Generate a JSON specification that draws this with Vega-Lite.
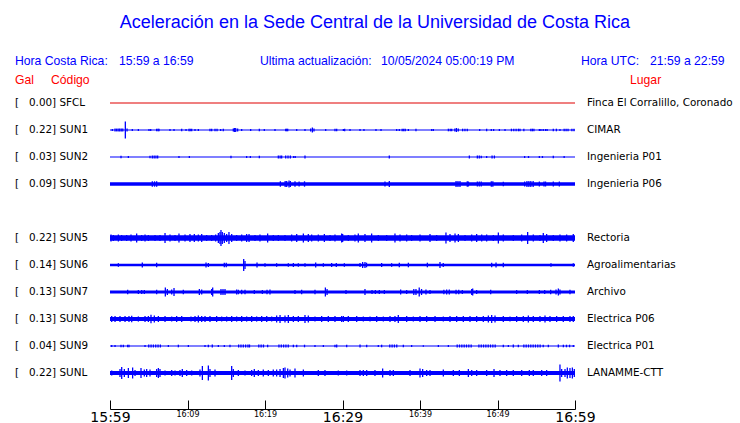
{
"$schema":"https://vega.github.io/schema/vega-lite/v6.json",
"width":465,"height":297,
"autosize":"none",
"padding":{"left":110,"top":89.5,"right":165,"bottom":36.5},
"config":{"view":{"stroke":null}},
"datasets":{
"stations":[
{"c":"SFCL","slot":0,"gal":0.00,"place":"Finca El Corralillo, Coronado","base":0.5},
{"c":"SUN1","slot":1,"gal":0.22,"place":"CIMAR","base":0.6},
{"c":"SUN2","slot":2,"gal":0.03,"place":"Ingenieria P01","base":0.6},
{"c":"SUN3","slot":3,"gal":0.09,"place":"Ingenieria P06","base":1.7},
{"c":"SUN5","slot":5,"gal":0.22,"place":"Rectoria","base":2.8},
{"c":"SUN6","slot":6,"gal":0.14,"place":"Agroalimentarias","base":1.3},
{"c":"SUN7","slot":7,"gal":0.13,"place":"Archivo","base":1.4},
{"c":"SUN8","slot":8,"gal":0.13,"place":"Electrica P06","base":2.0},
{"c":"SUN9","slot":9,"gal":0.04,"place":"Electrica P01","base":0.5},
{"c":"SUNL","slot":10,"gal":0.22,"place":"LANAMME-CTT","base":1.9}
],
"bursts":[
{"c":"SUN1","t":0.3,"a":1},{"c":"SUN1","t":0.65,"a":1.4},{"c":"SUN1","t":0.85,"a":1.4},{"c":"SUN1","t":1.05,"a":1.4},{"c":"SUN1","t":1.25,"a":1.4},{"c":"SUN1","t":1.45,"a":1.4},{"c":"SUN1","t":1.65,"a":1.4},{"c":"SUN1","t":1.98,"a":8.5},{"c":"SUN1","t":2.2,"a":1.4},{"c":"SUN1","t":2.88,"a":1},{"c":"SUN1","t":3.66,"a":1},{"c":"SUN1","t":5.03,"a":1},{"c":"SUN1","t":5.25,"a":1},{"c":"SUN1","t":6.02,"a":1.3},{"c":"SUN1","t":6.2,"a":1.3},{"c":"SUN1","t":6.32,"a":1.3},{"c":"SUN1","t":7.74,"a":1},{"c":"SUN1","t":8.26,"a":1},{"c":"SUN1","t":9.25,"a":1.3},{"c":"SUN1","t":9.81,"a":1},{"c":"SUN1","t":10.19,"a":1.3},{"c":"SUN1","t":10.35,"a":1.3},{"c":"SUN1","t":10.54,"a":1.3},{"c":"SUN1","t":10.97,"a":1},{"c":"SUN1","t":11.4,"a":1},{"c":"SUN1","t":12.9,"a":1.3},{"c":"SUN1","t":13.12,"a":1.3},{"c":"SUN1","t":13.55,"a":1.3},{"c":"SUN1","t":13.81,"a":1.3},{"c":"SUN1","t":14.28,"a":1},{"c":"SUN1","t":14.62,"a":1.3},{"c":"SUN1","t":15.91,"a":1.5},{"c":"SUN1","t":16.05,"a":2},{"c":"SUN1","t":16.22,"a":2},{"c":"SUN1","t":16.47,"a":1.5},{"c":"SUN1","t":16.99,"a":1},{"c":"SUN1","t":18.15,"a":1},{"c":"SUN1","t":19.27,"a":1.3},{"c":"SUN1","t":19.91,"a":1},{"c":"SUN1","t":21.29,"a":1},{"c":"SUN1","t":22.67,"a":1.3},{"c":"SUN1","t":22.8,"a":1.3},{"c":"SUN1","t":22.93,"a":1.3},{"c":"SUN1","t":24.09,"a":1},{"c":"SUN1","t":25.16,"a":1},{"c":"SUN1","t":25.89,"a":1.5},{"c":"SUN1","t":26.11,"a":2.5},{"c":"SUN1","t":26.32,"a":1.5},{"c":"SUN1","t":27.83,"a":1},{"c":"SUN1","t":29.03,"a":1.3},{"c":"SUN1","t":29.25,"a":1.3},{"c":"SUN1","t":30.11,"a":1},
{"c":"SUN1","t":30.28,"a":1.3},{"c":"SUN1","t":30.97,"a":1},{"c":"SUN1","t":32.26,"a":1},{"c":"SUN1","t":32.77,"a":1},{"c":"SUN1","t":34.32,"a":1},{"c":"SUN1","t":34.97,"a":1},{"c":"SUN1","t":36.99,"a":1},{"c":"SUN1","t":37.33,"a":1},{"c":"SUN1","t":37.7,"a":1.3},{"c":"SUN1","t":37.9,"a":1.3},{"c":"SUN1","t":38.1,"a":1.3},{"c":"SUN1","t":38.5,"a":1},{"c":"SUN1","t":39.48,"a":1.3},{"c":"SUN1","t":41.51,"a":1},{"c":"SUN1","t":41.72,"a":1},{"c":"SUN1","t":43.66,"a":1.3},{"c":"SUN1","t":43.9,"a":1.3},{"c":"SUN1","t":44.09,"a":1.3},{"c":"SUN1","t":44.5,"a":1.5},{"c":"SUN1","t":44.7,"a":2},{"c":"SUN1","t":44.94,"a":1.5},{"c":"SUN1","t":45.5,"a":1.3},{"c":"SUN1","t":45.8,"a":1.3},{"c":"SUN1","t":46.1,"a":1.3},{"c":"SUN1","t":47.7,"a":1},{"c":"SUN1","t":48.6,"a":1.3},{"c":"SUN1","t":49.2,"a":1},{"c":"SUN1","t":49.5,"a":1},{"c":"SUN1","t":50.24,"a":1},{"c":"SUN1","t":50.97,"a":1},{"c":"SUN1","t":51.8,"a":1.3},{"c":"SUN1","t":52.1,"a":1.3},{"c":"SUN1","t":52.4,"a":1.3},{"c":"SUN1","t":52.7,"a":1.3},{"c":"SUN1","t":52.9,"a":1.3},{"c":"SUN1","t":53.4,"a":1.3},{"c":"SUN1","t":54.3,"a":1.3},{"c":"SUN1","t":54.5,"a":1.3},{"c":"SUN1","t":54.7,"a":1.3},{"c":"SUN1","t":55.4,"a":1},{"c":"SUN1","t":55.6,"a":1},{"c":"SUN1","t":55.9,"a":1},{"c":"SUN1","t":56.2,"a":1},{"c":"SUN1","t":56.4,"a":1},{"c":"SUN1","t":57.2,"a":1.3},{"c":"SUN1","t":57.6,"a":1.3},{"c":"SUN1","t":58.06,"a":1},{"c":"SUN1","t":58.6,"a":1.3},{"c":"SUN1","t":58.85,"a":1.3},{"c":"SUN1","t":59.1,"a":1.3},{"c":"SUN1","t":59.6,"a":1.3},{"c":"SUN1","t":59.87,"a":1.3},
{"c":"SUN2","t":1.42,"a":1.3},{"c":"SUN2","t":2.37,"a":1},{"c":"SUN2","t":5.16,"a":1.3},{"c":"SUN2","t":5.46,"a":1.5},{"c":"SUN2","t":5.7,"a":1.5},{"c":"SUN2","t":5.93,"a":1.5},{"c":"SUN2","t":6.15,"a":1.5},{"c":"SUN2","t":8.9,"a":1},{"c":"SUN2","t":10.24,"a":1},{"c":"SUN2","t":15.61,"a":1.3},{"c":"SUN2","t":17.63,"a":1},{"c":"SUN2","t":18.11,"a":1},{"c":"SUN2","t":19.27,"a":1.3},{"c":"SUN2","t":21.72,"a":1.5},{"c":"SUN2","t":21.95,"a":1.5},{"c":"SUN2","t":22.15,"a":1.5},{"c":"SUN2","t":22.67,"a":1.5},{"c":"SUN2","t":22.97,"a":1.5},{"c":"SUN2","t":23.27,"a":1.5},{"c":"SUN2","t":23.7,"a":1},{"c":"SUN2","t":23.9,"a":1},{"c":"SUN2","t":25.16,"a":1.5},
{"c":"SUN2","t":36.04,"a":1.5},{"c":"SUN2","t":46.37,"a":1.5},{"c":"SUN2","t":47.4,"a":1.5},{"c":"SUN2","t":47.65,"a":1.5},{"c":"SUN2","t":47.9,"a":1.3},{"c":"SUN2","t":48.6,"a":1},{"c":"SUN2","t":49.3,"a":1.5},{"c":"SUN2","t":49.6,"a":1.5},{"c":"SUN2","t":53.5,"a":1},{"c":"SUN2","t":54.0,"a":1},{"c":"SUN2","t":55.4,"a":1},{"c":"SUN2","t":55.8,"a":1},{"c":"SUN2","t":57.2,"a":1.3},{"c":"SUN2","t":58.6,"a":1},
{"c":"SUN3","t":5.46,"a":2.7},{"c":"SUN3","t":5.75,"a":2.7},{"c":"SUN3","t":6.02,"a":2.7},{"c":"SUN3","t":21.98,"a":2.7},{"c":"SUN3","t":22.6,"a":3},{"c":"SUN3","t":22.8,"a":3},{"c":"SUN3","t":23.1,"a":3.5},{"c":"SUN3","t":23.27,"a":3},{"c":"SUN3","t":23.87,"a":2.7},{"c":"SUN3","t":24.4,"a":2.5},{"c":"SUN3","t":25.1,"a":2.7},
{"c":"SUN3","t":35.48,"a":2.5},{"c":"SUN3","t":36.04,"a":3},{"c":"SUN3","t":44.65,"a":3},{"c":"SUN3","t":44.9,"a":3},{"c":"SUN3","t":45.16,"a":3},{"c":"SUN3","t":46.1,"a":2.7},{"c":"SUN3","t":46.25,"a":2.5},{"c":"SUN3","t":47.4,"a":2.5},{"c":"SUN3","t":47.65,"a":2.5},{"c":"SUN3","t":47.9,"a":2.5},{"c":"SUN3","t":49.2,"a":2.7},{"c":"SUN3","t":49.4,"a":2.7},{"c":"SUN3","t":50.75,"a":2.3},{"c":"SUN3","t":53.5,"a":2.5},{"c":"SUN3","t":53.8,"a":3},{"c":"SUN3","t":54.05,"a":3},{"c":"SUN3","t":54.3,"a":3},{"c":"SUN3","t":54.6,"a":3},{"c":"SUN3","t":55.4,"a":2.5},{"c":"SUN3","t":56.0,"a":2.5},{"c":"SUN3","t":56.2,"a":2.5},{"c":"SUN3","t":57.2,"a":2.5},{"c":"SUN3","t":57.98,"a":2.5},
{"c":"SUN5","t":0.13,"a":3.5},{"c":"SUN5","t":0.43,"a":3},{"c":"SUN5","t":1.08,"a":3.5},{"c":"SUN5","t":1.5,"a":3},{"c":"SUN5","t":2.15,"a":3},{"c":"SUN5","t":2.71,"a":3.5},{"c":"SUN5","t":3.44,"a":4.5},{"c":"SUN5","t":4.09,"a":3},{"c":"SUN5","t":4.52,"a":3.5},{"c":"SUN5","t":4.95,"a":3},{"c":"SUN5","t":5.81,"a":3},{"c":"SUN5","t":6.45,"a":3},{"c":"SUN5","t":7.1,"a":5},{"c":"SUN5","t":7.74,"a":3.5},{"c":"SUN5","t":8.39,"a":3},{"c":"SUN5","t":8.9,"a":4.5},{"c":"SUN5","t":9.68,"a":3.5},{"c":"SUN5","t":10.32,"a":4},{"c":"SUN5","t":10.88,"a":4},{"c":"SUN5","t":11.4,"a":3.5},{"c":"SUN5","t":11.83,"a":4},{"c":"SUN5","t":12.47,"a":3},{"c":"SUN5","t":13.12,"a":3},{"c":"SUN5","t":13.63,"a":3.5},{"c":"SUN5","t":13.98,"a":5},{"c":"SUN5","t":14.19,"a":6},{"c":"SUN5","t":14.32,"a":8},{"c":"SUN5","t":14.49,"a":6},{"c":"SUN5","t":14.75,"a":5},{"c":"SUN5","t":15.05,"a":4},{"c":"SUN5","t":15.35,"a":6},{"c":"SUN5","t":15.7,"a":4},{"c":"SUN5","t":16.34,"a":3},{"c":"SUN5","t":16.99,"a":3.5},{"c":"SUN5","t":17.63,"a":4},{"c":"SUN5","t":17.94,"a":4},{"c":"SUN5","t":18.71,"a":3},{"c":"SUN5","t":19.35,"a":3.5},{"c":"SUN5","t":20.34,"a":4.5},{"c":"SUN5","t":21.07,"a":3},{"c":"SUN5","t":21.72,"a":3},{"c":"SUN5","t":22.58,"a":3},{"c":"SUN5","t":23.44,"a":3.5},{"c":"SUN5","t":24.09,"a":4},{"c":"SUN5","t":24.95,"a":4.5},{"c":"SUN5","t":25.59,"a":4},{"c":"SUN5","t":26.02,"a":3.5},{"c":"SUN5","t":26.88,"a":3.5},{"c":"SUN5","t":27.66,"a":4},{"c":"SUN5","t":28.39,"a":3},{"c":"SUN5","t":29.03,"a":3.5},{"c":"SUN5","t":29.89,"a":4.5},
{"c":"SUN5","t":30.02,"a":4},{"c":"SUN5","t":30.75,"a":3},{"c":"SUN5","t":31.61,"a":3.5},{"c":"SUN5","t":32.04,"a":4.5},{"c":"SUN5","t":32.9,"a":4},{"c":"SUN5","t":33.76,"a":4.5},{"c":"SUN5","t":34.62,"a":3},{"c":"SUN5","t":35.7,"a":3},{"c":"SUN5","t":36.77,"a":4.5},{"c":"SUN5","t":37.42,"a":3.5},{"c":"SUN5","t":38.28,"a":3.5},{"c":"SUN5","t":38.92,"a":3},{"c":"SUN5","t":40.0,"a":3.5},{"c":"SUN5","t":41.29,"a":4},{"c":"SUN5","t":42.15,"a":3},{"c":"SUN5","t":43.35,"a":5.5},{"c":"SUN5","t":43.87,"a":4},{"c":"SUN5","t":44.52,"a":4.5},{"c":"SUN5","t":44.95,"a":4},{"c":"SUN5","t":45.81,"a":3},{"c":"SUN5","t":46.67,"a":3.5},{"c":"SUN5","t":47.31,"a":4},{"c":"SUN5","t":47.96,"a":3.5},{"c":"SUN5","t":48.6,"a":3.5},{"c":"SUN5","t":49.46,"a":3},{"c":"SUN5","t":50.11,"a":5.5},{"c":"SUN5","t":50.75,"a":3.5},{"c":"SUN5","t":52.04,"a":3},{"c":"SUN5","t":53.12,"a":3.5},{"c":"SUN5","t":53.89,"a":6},{"c":"SUN5","t":54.62,"a":3.5},{"c":"SUN5","t":55.48,"a":3},{"c":"SUN5","t":55.91,"a":5},{"c":"SUN5","t":56.34,"a":4},{"c":"SUN5","t":57.2,"a":3},{"c":"SUN5","t":58.06,"a":3.5},{"c":"SUN5","t":58.92,"a":3.5},{"c":"SUN5","t":59.78,"a":4},
{"c":"SUN6","t":1.08,"a":1.8},{"c":"SUN6","t":4.17,"a":2.5},{"c":"SUN6","t":6.02,"a":2.3},{"c":"SUN6","t":12.39,"a":2.5},{"c":"SUN6","t":12.69,"a":2},{"c":"SUN6","t":14.75,"a":2.3},{"c":"SUN6","t":15.0,"a":2.3},{"c":"SUN6","t":17.25,"a":6},{"c":"SUN6","t":17.42,"a":4},{"c":"SUN6","t":18.97,"a":2.5},{"c":"SUN6","t":20.0,"a":1.8},{"c":"SUN6","t":21.5,"a":1.8},{"c":"SUN6","t":23.01,"a":1.8},{"c":"SUN6","t":23.66,"a":2},{"c":"SUN6","t":24.3,"a":1.8},{"c":"SUN6","t":25.16,"a":1.8},{"c":"SUN6","t":26.54,"a":2.5},{"c":"SUN6","t":27.53,"a":1.8},{"c":"SUN6","t":28.6,"a":2},{"c":"SUN6","t":29.2,"a":2},{"c":"SUN6","t":30.24,"a":1.8},
{"c":"SUN6","t":32.26,"a":2},{"c":"SUN6","t":32.6,"a":3},{"c":"SUN6","t":32.9,"a":3},{"c":"SUN6","t":33.1,"a":2.3},{"c":"SUN6","t":35.05,"a":2},{"c":"SUN6","t":36.34,"a":1.8},{"c":"SUN6","t":37.33,"a":2.3},{"c":"SUN6","t":38.5,"a":2.3},{"c":"SUN6","t":40.95,"a":2.3},{"c":"SUN6","t":42.58,"a":3},{"c":"SUN6","t":43.0,"a":2},{"c":"SUN6","t":49.25,"a":2.3},{"c":"SUN6","t":49.81,"a":2.5},{"c":"SUN6","t":50.75,"a":2.3},{"c":"SUN6","t":56.9,"a":1.8},{"c":"SUN6","t":59.78,"a":1.8},
{"c":"SUN7","t":2.28,"a":2.3},{"c":"SUN7","t":3.66,"a":2},{"c":"SUN7","t":4.09,"a":2},{"c":"SUN7","t":4.43,"a":2},{"c":"SUN7","t":6.02,"a":2.3},{"c":"SUN7","t":7.14,"a":4.5},{"c":"SUN7","t":7.4,"a":3},{"c":"SUN7","t":7.96,"a":2.5},{"c":"SUN7","t":8.26,"a":4},{"c":"SUN7","t":9.46,"a":2.3},{"c":"SUN7","t":11.53,"a":3},{"c":"SUN7","t":11.83,"a":2.5},{"c":"SUN7","t":13.12,"a":3},{"c":"SUN7","t":13.25,"a":4.5},{"c":"SUN7","t":14.32,"a":3},{"c":"SUN7","t":14.58,"a":3},{"c":"SUN7","t":14.84,"a":3},{"c":"SUN7","t":16.34,"a":2.5},{"c":"SUN7","t":16.56,"a":2.3},{"c":"SUN7","t":16.99,"a":2.3},{"c":"SUN7","t":17.42,"a":2.3},{"c":"SUN7","t":18.62,"a":2},{"c":"SUN7","t":19.66,"a":2},{"c":"SUN7","t":20.26,"a":2.3},{"c":"SUN7","t":20.64,"a":2.5},{"c":"SUN7","t":23.87,"a":2},{"c":"SUN7","t":24.73,"a":2.3},{"c":"SUN7","t":26.45,"a":2.3},{"c":"SUN7","t":27.79,"a":4.5},{"c":"SUN7","t":28.01,"a":3},
{"c":"SUN7","t":30.45,"a":2},{"c":"SUN7","t":32.9,"a":3},{"c":"SUN7","t":33.81,"a":2},{"c":"SUN7","t":34.24,"a":2},{"c":"SUN7","t":34.75,"a":2},{"c":"SUN7","t":35.4,"a":2},{"c":"SUN7","t":37.5,"a":2.5},{"c":"SUN7","t":38.28,"a":2},{"c":"SUN7","t":39.2,"a":3},{"c":"SUN7","t":39.48,"a":3},{"c":"SUN7","t":39.9,"a":4.5},{"c":"SUN7","t":40.2,"a":3},{"c":"SUN7","t":40.77,"a":2.5},{"c":"SUN7","t":41.29,"a":2},{"c":"SUN7","t":43.08,"a":2.3},{"c":"SUN7","t":43.44,"a":2.5},{"c":"SUN7","t":43.78,"a":2.5},{"c":"SUN7","t":44.65,"a":2.3},{"c":"SUN7","t":45.0,"a":2.3},{"c":"SUN7","t":45.46,"a":2},{"c":"SUN7","t":46.67,"a":3},{"c":"SUN7","t":46.8,"a":3.5},{"c":"SUN7","t":47.31,"a":2},{"c":"SUN7","t":49.12,"a":2.3},{"c":"SUN7","t":52.47,"a":2},{"c":"SUN7","t":53.85,"a":2},{"c":"SUN7","t":55.4,"a":2},{"c":"SUN7","t":56.09,"a":2},{"c":"SUN7","t":56.86,"a":2.3},{"c":"SUN7","t":57.55,"a":2.5},{"c":"SUN7","t":57.85,"a":3.5},{"c":"SUN7","t":58.06,"a":2.5},{"c":"SUN7","t":59.35,"a":2.3},
{"c":"SUN8","t":0.22,"a":3},{"c":"SUN8","t":0.65,"a":3},{"c":"SUN8","t":1.29,"a":3},{"c":"SUN8","t":1.94,"a":3},{"c":"SUN8","t":2.45,"a":3},{"c":"SUN8","t":2.8,"a":3.2},{"c":"SUN8","t":3.66,"a":2.6},{"c":"SUN8","t":4.52,"a":3},{"c":"SUN8","t":4.95,"a":3},{"c":"SUN8","t":5.29,"a":4.2},{"c":"SUN8","t":5.72,"a":3.5},{"c":"SUN8","t":6.24,"a":3},{"c":"SUN8","t":7.1,"a":3},{"c":"SUN8","t":7.96,"a":2.6},{"c":"SUN8","t":8.6,"a":3},{"c":"SUN8","t":9.25,"a":3},{"c":"SUN8","t":10.45,"a":2.6},{"c":"SUN8","t":10.97,"a":3},{"c":"SUN8","t":11.4,"a":3.5},{"c":"SUN8","t":11.83,"a":3},{"c":"SUN8","t":12.26,"a":3},{"c":"SUN8","t":12.9,"a":3},{"c":"SUN8","t":13.76,"a":3},{"c":"SUN8","t":14.41,"a":2.6},{"c":"SUN8","t":15.05,"a":2.6},{"c":"SUN8","t":15.7,"a":3},{"c":"SUN8","t":16.34,"a":2.6},{"c":"SUN8","t":16.99,"a":3},{"c":"SUN8","t":17.63,"a":2.6},{"c":"SUN8","t":18.28,"a":3},{"c":"SUN8","t":18.92,"a":2.6},{"c":"SUN8","t":19.57,"a":3},{"c":"SUN8","t":20.22,"a":3},{"c":"SUN8","t":20.86,"a":2.6},{"c":"SUN8","t":21.5,"a":3.5},{"c":"SUN8","t":21.94,"a":4},{"c":"SUN8","t":22.58,"a":3.5},{"c":"SUN8","t":23.01,"a":4},{"c":"SUN8","t":23.66,"a":3},{"c":"SUN8","t":24.3,"a":3},{"c":"SUN8","t":25.16,"a":4},{"c":"SUN8","t":25.59,"a":3.5},{"c":"SUN8","t":26.45,"a":2.6},{"c":"SUN8","t":27.31,"a":3},{"c":"SUN8","t":28.17,"a":3},{"c":"SUN8","t":29.03,"a":3},{"c":"SUN8","t":29.89,"a":3},
{"c":"SUN8","t":30.11,"a":3},{"c":"SUN8","t":30.75,"a":3},{"c":"SUN8","t":31.83,"a":3},{"c":"SUN8","t":32.69,"a":2.6},{"c":"SUN8","t":33.55,"a":2.6},{"c":"SUN8","t":34.41,"a":3},{"c":"SUN8","t":35.27,"a":2.6},{"c":"SUN8","t":36.13,"a":3},{"c":"SUN8","t":36.77,"a":3},{"c":"SUN8","t":37.2,"a":4},{"c":"SUN8","t":38.28,"a":3},{"c":"SUN8","t":39.14,"a":2.6},{"c":"SUN8","t":40.0,"a":3},{"c":"SUN8","t":40.86,"a":3},{"c":"SUN8","t":41.94,"a":3},{"c":"SUN8","t":43.01,"a":2.6},{"c":"SUN8","t":43.87,"a":3},{"c":"SUN8","t":44.73,"a":3},{"c":"SUN8","t":45.59,"a":3},{"c":"SUN8","t":46.45,"a":3},{"c":"SUN8","t":47.31,"a":3},{"c":"SUN8","t":48.17,"a":3},{"c":"SUN8","t":48.82,"a":3.5},{"c":"SUN8","t":49.25,"a":4},{"c":"SUN8","t":49.68,"a":3.5},{"c":"SUN8","t":50.75,"a":3},{"c":"SUN8","t":51.61,"a":2.6},{"c":"SUN8","t":52.47,"a":3},{"c":"SUN8","t":53.33,"a":3},{"c":"SUN8","t":53.98,"a":3.5},{"c":"SUN8","t":54.62,"a":3},{"c":"SUN8","t":55.48,"a":3},{"c":"SUN8","t":56.13,"a":3.5},{"c":"SUN8","t":56.77,"a":3},{"c":"SUN8","t":57.63,"a":3},{"c":"SUN8","t":58.49,"a":3},{"c":"SUN8","t":59.35,"a":3},{"c":"SUN8","t":59.78,"a":3},
{"c":"SUN9","t":0.22,"a":1},{"c":"SUN9","t":0.65,"a":1},{"c":"SUN9","t":1.42,"a":1.3},{"c":"SUN9","t":1.72,"a":1.3},{"c":"SUN9","t":2.28,"a":1.3},{"c":"SUN9","t":2.45,"a":1.3},{"c":"SUN9","t":4.52,"a":1},{"c":"SUN9","t":5.0,"a":1.5},{"c":"SUN9","t":5.3,"a":1.5},{"c":"SUN9","t":5.6,"a":1.5},{"c":"SUN9","t":5.9,"a":1.5},{"c":"SUN9","t":6.2,"a":1.5},{"c":"SUN9","t":6.5,"a":1.5},{"c":"SUN9","t":7.53,"a":1},{"c":"SUN9","t":8.82,"a":1.3},{"c":"SUN9","t":10.11,"a":1},{"c":"SUN9","t":12.26,"a":1},{"c":"SUN9","t":12.69,"a":1.3},{"c":"SUN9","t":13.2,"a":1.5},{"c":"SUN9","t":13.98,"a":1},{"c":"SUN9","t":14.75,"a":1},{"c":"SUN9","t":15.48,"a":1.3},{"c":"SUN9","t":16.6,"a":1.5},{"c":"SUN9","t":16.9,"a":1.5},{"c":"SUN9","t":17.2,"a":1.5},{"c":"SUN9","t":17.5,"a":1.5},{"c":"SUN9","t":17.8,"a":1.5},{"c":"SUN9","t":18.0,"a":1.5},{"c":"SUN9","t":19.2,"a":1.5},{"c":"SUN9","t":19.5,"a":1.5},{"c":"SUN9","t":19.8,"a":1.5},{"c":"SUN9","t":20.34,"a":1.3},{"c":"SUN9","t":21.8,"a":1.5},{"c":"SUN9","t":22.1,"a":1.5},{"c":"SUN9","t":22.4,"a":1.5},{"c":"SUN9","t":22.7,"a":1.5},{"c":"SUN9","t":23.0,"a":1.5},{"c":"SUN9","t":23.66,"a":1.3},{"c":"SUN9","t":24.09,"a":1.3},{"c":"SUN9","t":25.1,"a":1.3},{"c":"SUN9","t":26.45,"a":1},{"c":"SUN9","t":27.53,"a":1},{"c":"SUN9","t":29.03,"a":1.3},{"c":"SUN9","t":29.25,"a":1.5},
{"c":"SUN9","t":30.54,"a":1.3},{"c":"SUN9","t":32.26,"a":1.5},{"c":"SUN9","t":33.12,"a":1.3},{"c":"SUN9","t":34.62,"a":1},{"c":"SUN9","t":35.05,"a":1.3},{"c":"SUN9","t":36.1,"a":1.5},{"c":"SUN9","t":36.4,"a":1.5},{"c":"SUN9","t":36.7,"a":1.5},{"c":"SUN9","t":37.0,"a":1.5},{"c":"SUN9","t":37.85,"a":1.3},{"c":"SUN9","t":38.92,"a":1},{"c":"SUN9","t":40.43,"a":0.8},{"c":"SUN9","t":42.37,"a":1},{"c":"SUN9","t":43.66,"a":1},{"c":"SUN9","t":44.8,"a":1.5},{"c":"SUN9","t":45.1,"a":1.5},{"c":"SUN9","t":45.4,"a":1.5},{"c":"SUN9","t":45.7,"a":1.5},{"c":"SUN9","t":46.0,"a":1.5},{"c":"SUN9","t":46.3,"a":1.5},{"c":"SUN9","t":46.6,"a":1.5},{"c":"SUN9","t":47.6,"a":1.5},{"c":"SUN9","t":47.9,"a":1.5},{"c":"SUN9","t":48.2,"a":1.5},{"c":"SUN9","t":48.5,"a":1.5},{"c":"SUN9","t":48.8,"a":1.5},{"c":"SUN9","t":49.1,"a":1.5},{"c":"SUN9","t":49.4,"a":1.5},{"c":"SUN9","t":49.7,"a":1.5},{"c":"SUN9","t":50.75,"a":1.3},{"c":"SUN9","t":51.4,"a":1},{"c":"SUN9","t":52.04,"a":1.5},{"c":"SUN9","t":52.69,"a":1.3},{"c":"SUN9","t":53.4,"a":1.5},{"c":"SUN9","t":53.7,"a":1.5},{"c":"SUN9","t":54.0,"a":1.5},{"c":"SUN9","t":54.3,"a":1.5},{"c":"SUN9","t":54.6,"a":1.5},{"c":"SUN9","t":54.9,"a":1.5},{"c":"SUN9","t":55.2,"a":1.5},{"c":"SUN9","t":55.5,"a":1.5},{"c":"SUN9","t":55.9,"a":1.3},{"c":"SUN9","t":56.56,"a":1.3},{"c":"SUN9","t":57.85,"a":1.5},{"c":"SUN9","t":58.5,"a":1.3},{"c":"SUN9","t":58.9,"a":1.3},{"c":"SUN9","t":59.3,"a":1.3},{"c":"SUN9","t":59.78,"a":1},
{"c":"SUNL","t":0.22,"a":2.5},{"c":"SUNL","t":1.29,"a":4},{"c":"SUNL","t":1.51,"a":6},{"c":"SUNL","t":1.85,"a":4},{"c":"SUNL","t":2.37,"a":5},{"c":"SUNL","t":2.92,"a":5.5},{"c":"SUNL","t":3.23,"a":3},{"c":"SUNL","t":4.0,"a":5},{"c":"SUNL","t":4.43,"a":3.5},{"c":"SUNL","t":4.73,"a":4},{"c":"SUNL","t":5.16,"a":3.5},{"c":"SUNL","t":6.02,"a":4},{"c":"SUNL","t":6.24,"a":5},{"c":"SUNL","t":6.45,"a":4},{"c":"SUNL","t":7.1,"a":2.5},{"c":"SUNL","t":7.96,"a":3},{"c":"SUNL","t":8.39,"a":2.5},{"c":"SUNL","t":9.03,"a":3},{"c":"SUNL","t":9.33,"a":4},{"c":"SUNL","t":9.89,"a":3},{"c":"SUNL","t":10.54,"a":2.5},{"c":"SUNL","t":11.61,"a":3.5},{"c":"SUNL","t":11.92,"a":7},{"c":"SUNL","t":12.69,"a":7.5},{"c":"SUNL","t":12.9,"a":4},{"c":"SUNL","t":13.55,"a":3.5},{"c":"SUNL","t":15.7,"a":7},{"c":"SUNL","t":15.91,"a":4},{"c":"SUNL","t":16.56,"a":3},{"c":"SUNL","t":17.42,"a":2.5},{"c":"SUNL","t":18.28,"a":3},{"c":"SUNL","t":18.62,"a":4},{"c":"SUNL","t":19.14,"a":3},{"c":"SUNL","t":19.78,"a":3.5},{"c":"SUNL","t":20.43,"a":3},{"c":"SUNL","t":21.07,"a":3.5},{"c":"SUNL","t":21.5,"a":3.5},{"c":"SUNL","t":21.94,"a":4},{"c":"SUNL","t":22.37,"a":5},{"c":"SUNL","t":22.58,"a":5.5},{"c":"SUNL","t":22.93,"a":4.5},{"c":"SUNL","t":23.23,"a":3.5},{"c":"SUNL","t":23.87,"a":4.5},{"c":"SUNL","t":24.95,"a":3.5},{"c":"SUNL","t":26.88,"a":3},{"c":"SUNL","t":27.74,"a":3},{"c":"SUNL","t":29.46,"a":2.5},
{"c":"SUNL","t":30.54,"a":2.5},{"c":"SUNL","t":32.26,"a":3},{"c":"SUNL","t":32.69,"a":3},{"c":"SUNL","t":33.12,"a":3},{"c":"SUNL","t":34.19,"a":3},{"c":"SUNL","t":35.18,"a":4.5},{"c":"SUNL","t":36.13,"a":3},{"c":"SUNL","t":36.56,"a":3},{"c":"SUNL","t":38.71,"a":3},{"c":"SUNL","t":40.0,"a":4.5},{"c":"SUNL","t":40.34,"a":4},{"c":"SUNL","t":40.86,"a":3},{"c":"SUNL","t":41.29,"a":3},{"c":"SUNL","t":43.01,"a":3.5},{"c":"SUNL","t":44.3,"a":3},{"c":"SUNL","t":45.08,"a":3},{"c":"SUNL","t":46.24,"a":4},{"c":"SUNL","t":46.67,"a":3},{"c":"SUNL","t":47.31,"a":3},{"c":"SUNL","t":48.6,"a":3},{"c":"SUNL","t":49.55,"a":4},{"c":"SUNL","t":50.32,"a":3},{"c":"SUNL","t":51.18,"a":3},{"c":"SUNL","t":52.04,"a":3},{"c":"SUNL","t":53.12,"a":3},{"c":"SUNL","t":54.11,"a":3},{"c":"SUNL","t":54.62,"a":3},{"c":"SUNL","t":55.7,"a":3},{"c":"SUNL","t":56.34,"a":3},{"c":"SUNL","t":58.06,"a":8.5},{"c":"SUNL","t":58.28,"a":4},{"c":"SUNL","t":58.71,"a":4},{"c":"SUNL","t":59.01,"a":5.5},{"c":"SUNL","t":59.35,"a":5},{"c":"SUNL","t":59.66,"a":5.5},{"c":"SUNL","t":59.91,"a":4}
]
},
"layer":[
{
"data":{"name":"bursts"},
"transform":[
{"lookup":"c","from":{"data":{"name":"stations"},"key":"c","fields":["slot"]}},
{"calculate":"datum.slot - datum.a/27","as":"lo"},
{"calculate":"datum.slot + datum.a/27","as":"hi"}
],
"mark":{"type":"rule","strokeWidth":1.3,"color":"#0000ff"},
"encoding":{
"x":{"field":"t","type":"quantitative","scale":{"domain":[0,60],"nice":false,"zero":false},
 "axis":{"orient":"bottom","values":[0,5,10,15,20,25,30,35,40,45,50,55,60],
 "labelExpr":"['15:59','','16:09','','16:19','','16:29','','16:39','','16:49','','16:59'][round(datum.value/5)]",
 "title":null,"offset":22.5,"tickSize":-9,"tickColor":"black","domainColor":"black","labelColor":"black",
 "labelFont":"DejaVu Sans","labelFontSize":{"condition":{"test":"datum.value % 30 === 0","value":14},"value":8},
 "labelPadding":10,"labelBaseline":"top","labelFlush":false,"labelOverlap":false,"grid":false}},
"y":{"field":"lo","type":"quantitative","scale":{"domain":[-0.5,10.5],"reverse":true,"nice":false,"zero":false},"axis":null},
"y2":{"field":"hi"}
}
},
{
"data":{"name":"stations"},
"transform":[{"calculate":"datum.slot - datum.base/27","as":"lo"},{"calculate":"datum.slot + datum.base/27","as":"hi"}],
"mark":{"type":"rect"},
"encoding":{
"x":{"datum":0,"type":"quantitative"},
"x2":{"datum":60},
"y":{"field":"lo","type":"quantitative","axis":null},
"y2":{"field":"hi"},
"color":{"condition":{"test":"datum.c === 'SFCL'","value":"#e00000"},"value":"#0000ff"}
}
},
{
"data":{"name":"stations"},
"transform":[{"calculate":"'[\u00a0\u00a0\u00a0' + format(datum.gal,'.2f') + ']\u00a0' + datum.c","as":"lab"}],
"mark":{"type":"text","align":"left","baseline":"middle","dx":-95,"font":"DejaVu Sans","fontSize":10.4,"color":"black"},
"encoding":{"x":{"datum":0,"type":"quantitative"},"y":{"field":"slot","type":"quantitative","axis":null},"text":{"field":"lab"}}
},
{
"data":{"name":"stations"},
"mark":{"type":"text","align":"left","baseline":"middle","dx":12,"font":"DejaVu Sans","fontSize":10.4,"color":"black"},
"encoding":{"x":{"datum":60,"type":"quantitative"},"y":{"field":"slot","type":"quantitative","axis":null},"text":{"field":"place"}}
},
{"data":{"values":[{}]},"mark":{"type":"text","text":"Aceleración en la Sede Central de la Universidad de Costa Rica","align":"center","baseline":"middle","font":"Liberation Sans","fontSize":18,"color":"#0000ff"},
"encoding":{"x":{"datum":34.19,"type":"quantitative"},"y":{"datum":-2.95,"type":"quantitative","axis":null}}},
{"data":{"values":[{}]},"mark":{"type":"text","text":"Hora Costa Rica:","align":"left","baseline":"middle","font":"Liberation Sans","fontSize":12.2,"color":"#0000ff"},
"encoding":{"x":{"datum":-12.26,"type":"quantitative"},"y":{"datum":-1.556,"type":"quantitative","axis":null}}},
{"data":{"values":[{}]},"mark":{"type":"text","text":"15:59 a 16:59","align":"left","baseline":"middle","font":"Liberation Sans","fontSize":12.2,"color":"#0000ff"},
"encoding":{"x":{"datum":1.16,"type":"quantitative"},"y":{"datum":-1.556,"type":"quantitative","axis":null}}},
{"data":{"values":[{}]},"mark":{"type":"text","text":"Ultima actualización:","align":"left","baseline":"middle","font":"Liberation Sans","fontSize":12.2,"color":"#0000ff"},
"encoding":{"x":{"datum":19.35,"type":"quantitative"},"y":{"datum":-1.556,"type":"quantitative","axis":null}}},
{"data":{"values":[{}]},"mark":{"type":"text","text":"10/05/2024 05:00:19 PM","align":"left","baseline":"middle","font":"Liberation Sans","fontSize":12.2,"color":"#0000ff"},
"encoding":{"x":{"datum":34.97,"type":"quantitative"},"y":{"datum":-1.556,"type":"quantitative","axis":null}}},
{"data":{"values":[{}]},"mark":{"type":"text","text":"Hora UTC:","align":"left","baseline":"middle","font":"Liberation Sans","fontSize":12.2,"color":"#0000ff"},
"encoding":{"x":{"datum":60.77,"type":"quantitative"},"y":{"datum":-1.556,"type":"quantitative","axis":null}}},
{"data":{"values":[{}]},"mark":{"type":"text","text":"21:59 a 22:59","align":"left","baseline":"middle","font":"Liberation Sans","fontSize":12.2,"color":"#0000ff"},
"encoding":{"x":{"datum":69.68,"type":"quantitative"},"y":{"datum":-1.556,"type":"quantitative","axis":null}}},
{"data":{"values":[{}]},"mark":{"type":"text","text":"Gal","align":"left","baseline":"middle","font":"Liberation Sans","fontSize":12.2,"color":"#ff0000"},
"encoding":{"x":{"datum":-12.26,"type":"quantitative"},"y":{"datum":-0.852,"type":"quantitative","axis":null}}},
{"data":{"values":[{}]},"mark":{"type":"text","text":"Código","align":"left","baseline":"middle","font":"Liberation Sans","fontSize":12.2,"color":"#ff0000"},
"encoding":{"x":{"datum":-7.61,"type":"quantitative"},"y":{"datum":-0.852,"type":"quantitative","axis":null}}},
{"data":{"values":[{}]},"mark":{"type":"text","text":"Lugar","align":"left","baseline":"middle","font":"Liberation Sans","fontSize":12.2,"color":"#ff0000"},
"encoding":{"x":{"datum":67.1,"type":"quantitative"},"y":{"datum":-0.852,"type":"quantitative","axis":null}}}
]
}
